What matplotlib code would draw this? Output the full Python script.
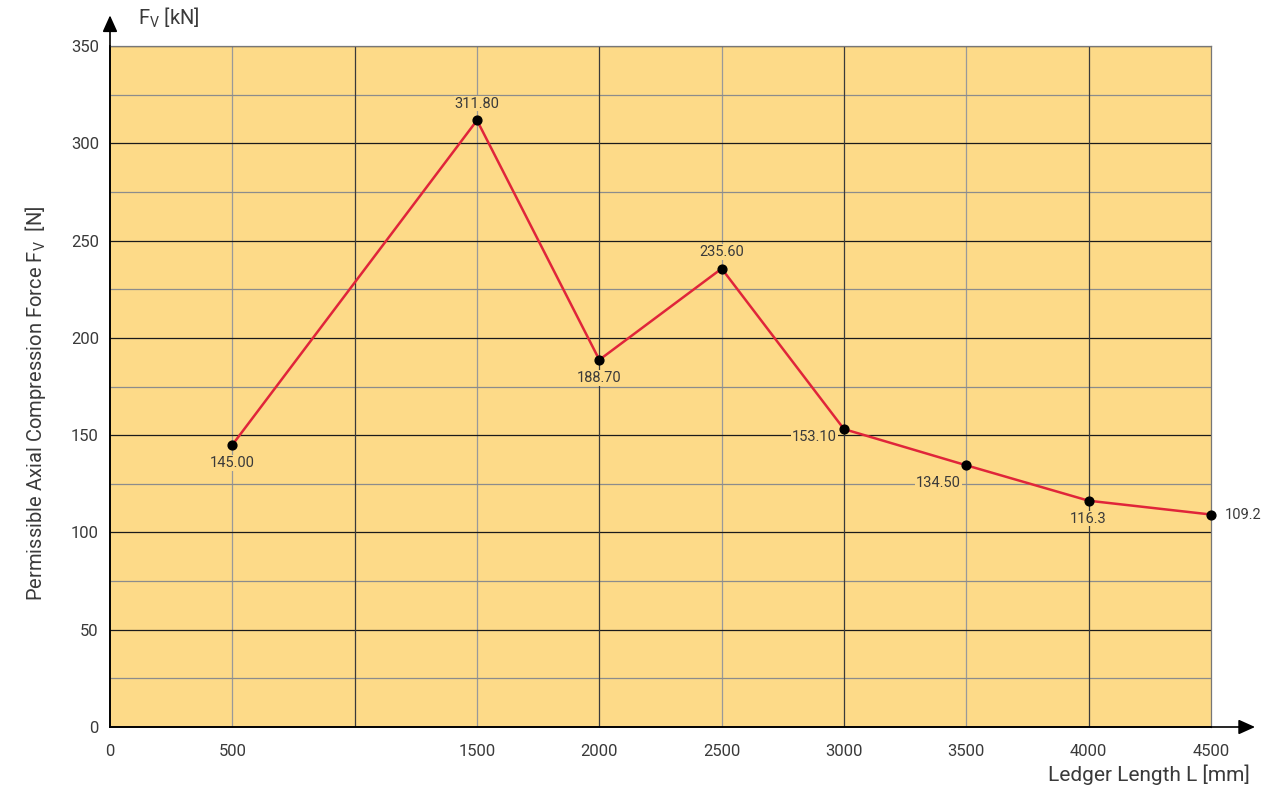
import numpy as np
import matplotlib.pyplot as plt
from matplotlib.ticker import MultipleLocator

plt.rcParams['font.family'] = ['Roboto', 'DejaVu Sans']
plt.rcParams['mathtext.default'] = 'regular'

# Data
lengths = [500, 1500, 2000, 2500, 3000, 3500, 4000, 4500]
forces = [145.00, 311.80, 188.70, 235.60, 153.10, 134.50, 116.3, 109.2]
labels = ['145.00', '311.80', '188.70', '235.60', '153.10', '134.50', '116.3', '109.2']
xticks = [0, 500, 1500, 2000, 2500, 3000, 3500, 4000, 4500]
major_x = [1000, 2000, 3000, 4000]
minor_x = [500, 1500, 2500, 3500]

bg = '#fdda88'
text_col = '#3a3a3a'

fig = plt.figure(figsize=(12.81, 7.92), dpi=100)
ax = fig.add_axes([110 / 1281, 1 - 727 / 792, 1101 / 1281, 681 / 792])
ax.set_facecolor(bg)
ax.set_xlim(0, 4500)
ax.set_ylim(0, 350)

# horizontal grid
ax.yaxis.set_major_locator(MultipleLocator(50))
ax.yaxis.set_minor_locator(MultipleLocator(25))
ax.grid(which='major', axis='y', color='#1a1a1a', lw=0.9)
ax.grid(which='minor', axis='y', color='#8c8c8c', lw=0.9)
ax.set_axisbelow(True)

# vertical grid
for x in minor_x:
    ax.axvline(x, color='#999999', lw=0.9, zorder=0.5)
for x in major_x:
    ax.axvline(x, color='#3a3a3a', lw=0.9, zorder=0.6)

ax.set_xticks(xticks)
ax.set_yticks(range(0, 351, 50))
ax.tick_params(which='both', length=0, labelsize=12, colors=text_col)
ax.tick_params(axis='x', pad=12)
ax.tick_params(axis='y', pad=8)

for s in ['top', 'right']:
    ax.spines[s].set_color('#777777')
    ax.spines[s].set_linewidth(0.9)
for s in ['left', 'bottom']:
    ax.spines[s].set_color('black')
    ax.spines[s].set_linewidth(1.2)

# line and points
ax.plot(lengths, forces, color='#e0253a', lw=1.8, zorder=3)
ax.scatter(lengths, forces, color='black', s=40, zorder=4, clip_on=False)

offsets = [(0, -13, 'center'), (0, 12, 'center'), (0, -13, 'center'), (0, 12, 'center'),
           (-5, -6, 'right'), (-20, -13, 'center'), (0, -13, 'center'), (10, 0, 'left')]
for x, y, lab, (dx, dy, ha) in zip(lengths, forces, labels, offsets):
    box = dict(boxstyle='square,pad=0.05', fc=bg if x < 4500 else 'white', ec='none')
    ax.annotate(lab, (x, y), xytext=(dx, dy), textcoords='offset points',
                ha=ha, va='center', fontsize=10.5, color=text_col, zorder=5,
                bbox=box, annotation_clip=False)

# axis arrows
ax.annotate('', xy=(0, 1.045), xytext=(0, 0), xycoords='axes fraction',
            arrowprops=dict(arrowstyle='-|>,head_length=1.0,head_width=0.45',
                            color='black', lw=1.2, shrinkA=0, shrinkB=0))
ax.annotate('', xy=(1.04, 0), xytext=(0, 0), xycoords='axes fraction',
            arrowprops=dict(arrowstyle='-|>,head_length=1.0,head_width=0.45',
                            color='black', lw=1.2, shrinkA=0, shrinkB=0))

fig.text(138 / 1281, 1 - 18 / 792, r'F$_V$ [kN]', fontsize=14.5, color=text_col,
         va='center', ha='left')
fig.text(1250 / 1281, 1 - 775 / 792, 'Ledger Length L [mm]', fontsize=15,
         color=text_col, va='center', ha='right')
fig.text(36 / 1281, 1 - 403 / 792, r'Permissible Axial Compression Force F$_V$  [N]',
         fontsize=14.5, color=text_col, rotation=90, va='center', ha='center')

fig.savefig('out.png', dpi=100)
